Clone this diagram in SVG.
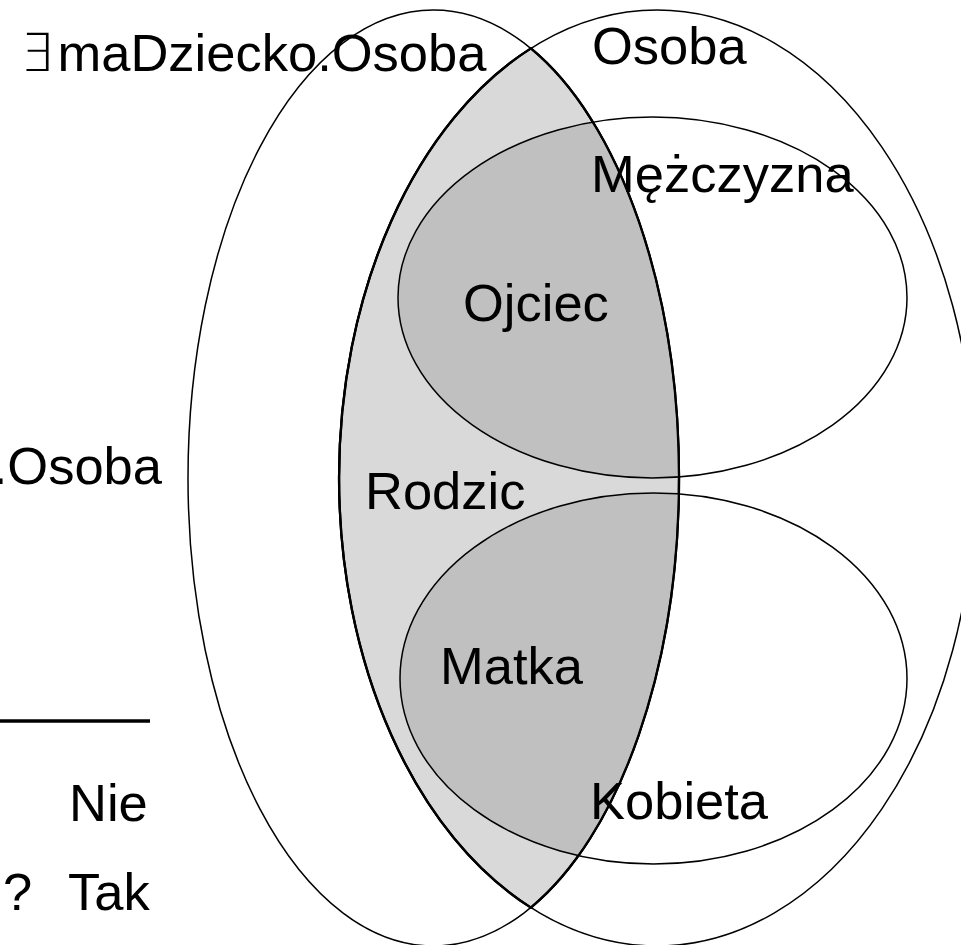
<svg xmlns="http://www.w3.org/2000/svg" width="961" height="945" viewBox="0 0 961 945">
<style>
text{font-family:"Liberation Sans",Arial,"DejaVu Sans",sans-serif;font-size:52.5px;fill:#000}
.ol{fill:none;stroke:#000;stroke-width:1.5}
.lens{fill:#d9d9d9;stroke:#000;stroke-width:2.3}
.dark{fill:#c0c0c0}
</style>
<defs>
<clipPath id="clipLeft"><ellipse cx="433.5" cy="478" rx="245.5" ry="468"/></clipPath>
</defs>
<rect width="961" height="945" fill="#fff"/>
<g id="fills">
<path class="lens" d="M530.9,48.4 A318,468 0 0 0 530.9,907.6 A245.5,468 0 0 0 530.9,48.4 Z"/>
<g clip-path="url(#clipLeft)">
<ellipse class="dark" cx="652.5" cy="297.5" rx="254.5" ry="180.5"/>
<ellipse class="dark" cx="653.5" cy="678.5" rx="253.5" ry="185.5"/>
</g>
</g>
<g id="maDziecko">
<ellipse class="ol" cx="433.5" cy="478" rx="245.5" ry="468"/>
<text x="20" y="71"><tspan font-family="DejaVu Sans,sans-serif" font-weight="300">∃</tspan><tspan x="57.5">maDziecko.Osoba</tspan></text>
</g>
<g id="osoba">
<ellipse class="ol" cx="657" cy="478" rx="318" ry="468"/>
<text x="592" y="64">Osoba</text>
</g>
<g id="rodzic">
<path fill="none" stroke="#000" stroke-width="2.3" d="M530.9,48.4 A318,468 0 0 0 530.9,907.6 A245.5,468 0 0 0 530.9,48.4 Z"/>
<text x="365" y="509">Rodzic</text>
</g>
<g id="mezczyzna">
<ellipse class="ol" cx="652.5" cy="297.5" rx="254.5" ry="180.5"/>
<text x="591" y="192">Mężczyzna</text>
</g>
<g id="ojciec">
<text x="463" y="321">Ojciec</text>
</g>
<g id="kobieta">
<ellipse class="ol" cx="653.5" cy="678.5" rx="253.5" ry="185.5"/>
<text x="590" y="819">Kobieta</text>
</g>
<g id="matka">
<text x="440" y="684">Matka</text>
</g>
<g id="lewa-etykieta">
<text x="162" y="484" text-anchor="end">.Osoba</text>
</g>
<g id="connectors"></g>
<g id="legenda">
<line x1="0" y1="721" x2="150" y2="721" stroke="#000" stroke-width="3.5"/>
<text x="69" y="821">Nie</text>
<text x="3" y="910">?</text>
<text x="68" y="910">Tak</text>
</g>
</svg>
